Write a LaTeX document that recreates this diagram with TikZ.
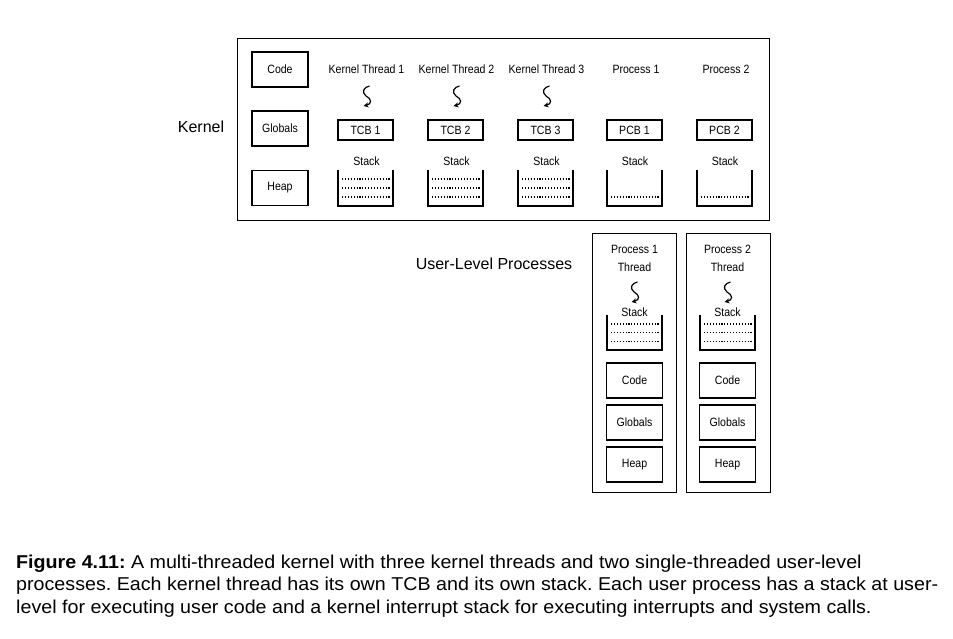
\documentclass[tikz,border=0pt]{standalone}
\usepackage{fontspec}
\setmainfont{Liberation Sans}
\newfontfamily\condfont[FakeStretch=0.88]{Liberation Sans}
\newfontfamily\capfont[FakeStretch=1.058]{Liberation Sans}
\usetikzlibrary{arrows.meta}
\begin{document}
\begin{tikzpicture}[x=1pt,y=-1pt,
  lw/.style={line width=1.3pt},
  smallfont/.style={font=\condfont\fontsize{12}{13}\selectfont},
  memb/.style={draw, lw, smallfont, minimum width=56pt, minimum height=35pt, inner sep=0pt},
  cb/.style={draw, lw, smallfont, minimum width=55pt, minimum height=20pt, inner sep=0pt},
  lbl/.style={smallfont, inner sep=0pt},
  frm/.style={draw, lw, inner sep=0pt, anchor=north west},
  bigtxt/.style={font=\fontsize{16}{18}\selectfont, inner sep=0pt},
  captxt/.style={font=\capfont\frenchspacing\fontsize{18.6}{22}\selectfont, anchor=base west, inner sep=0pt},
  dotline/.style={line width=1.3pt, dash pattern=on 1.1pt off 1.8pt},
  stk/.style={lw},
  pics/thr/.style={code={\draw[line width=1.2pt,-{Stealth[length=5pt,width=5pt]}] (2.5,-10) .. controls (-3,-9) and (-6,-4) .. (-1,0) .. controls (5,3) and (5,8) .. (-3.5,10);}},
]
\useasboundingbox (0,0) rectangle (953,639);

% Kernel frame
\node[frm, minimum width=532pt, minimum height=182pt] (kern) at (237,38) {};
\node[bigtxt] (klbl) at (201,127) {Kernel};

\node[memb] (kcode) at (280,69.5) {Code};
\node[memb] (kglob) at (280,128.5) {Globals};
\node[memb] (kheap) at (280,188) {Heap};

% kernel threads
\foreach \i/\cx in {1/365.5,2/455.5,3/545.5}{
  \node[lbl] (kt\i) at (\cx+1,69) {Kernel Thread \i};
  \pic at (\cx+1.5,96) {thr};
  \node[cb] (tcb\i) at (\cx,130) {TCB \i};
  \node[lbl] (ks\i) at (\cx+1,161) {Stack};
  \draw[stk] (\cx-27.5,170) |- (\cx+27.5,206) -- (\cx+27.5,170);
  \foreach \yy in {179,188,197}{
    \draw[dotline] (\cx-23.5,\yy) -- (\cx+24,\yy);
  }
}
% processes in kernel
\foreach \i/\cx in {1/634.5,2/724.5}{
  \node[lbl] (kp\i) at (\cx+1.5,69) {Process \i};
  \node[cb] (pcb\i) at (\cx,130) {PCB \i};
  \node[lbl] (ps\i) at (\cx+0.5,161) {Stack};
  \draw[stk] (\cx-27.5,170) |- (\cx+27.5,206) -- (\cx+27.5,170);
  \draw[dotline] (\cx-23.5,197) -- (\cx+24,197);
}

% User-level processes
\node[bigtxt] (ulbl) at (494,264) {User-Level Processes};
\foreach \i/\bx/\cx in {1/592/634.5,2/686/727.5}{
  \node[frm, minimum width=84pt, minimum height=259pt] (up\i) at (\bx,233) {};
  \node[lbl] (upn\i) at (\cx,249) {Process \i};
  \node[lbl] (upt\i) at (\cx,267) {Thread};
  \pic at (\cx+0.5,292) {thr};
  \draw[stk] (\cx-27.5,315) |- (\cx+27.5,350) -- (\cx+27.5,315);
  \node[lbl] (ups\i) at (\cx,312) {Stack};
  \foreach \yy in {324,332.7,341.3}{
    \draw[dotline] (\cx-23.5,\yy) -- (\cx+24,\yy);
  }
  \node[memb] (ucode\i) at (\cx,380.5) {Code};
  \node[memb] (uglob\i) at (\cx,422.5) {Globals};
  \node[memb] (uheap\i) at (\cx,464.5) {Heap};
}

% caption
\node[captxt] (c1) at (16,568) {\textbf{Figure 4.11:} A multi-threaded kernel with three kernel threads and two single-threaded user-level};
\node[captxt] (c2) at (16,590.5) {processes. Each kernel thread has its own TCB and its own stack. Each user process has a stack at user-};
\node[captxt] (c3) at (16,613) {level for executing user code and a kernel interrupt stack for executing interrupts and system calls.};
\end{tikzpicture}
\end{document}
